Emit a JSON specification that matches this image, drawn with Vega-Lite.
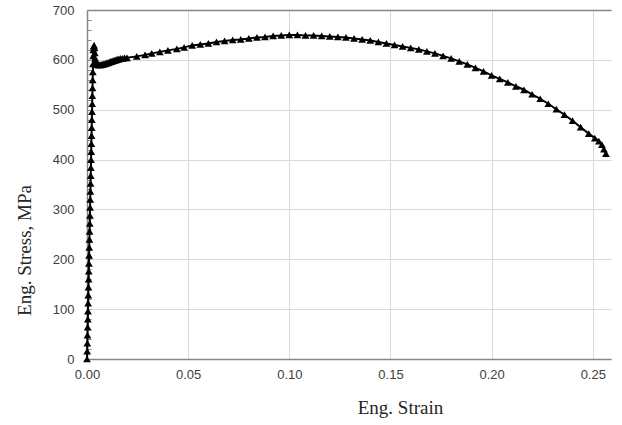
{
  "$schema": "https://vega.github.io/schema/vega-lite/v6.json",
  "width": 524,
  "height": 349,
  "autosize": {"type": "none"},
  "padding": {"left": 87, "top": 10, "right": 11, "bottom": 66},
  "background": "white",
  "config": {
    "view": {"stroke": null},
    "axis": {
      "domainColor": "#868686",
      "domainWidth": 1.5,
      "gridColor": "#d9d9d9",
      "gridWidth": 1,
      "labelFont": "Liberation Sans",
      "labelFontSize": 13,
      "labelColor": "#404040",
      "titleFont": "Liberation Serif",
      "titleFontSize": 19,
      "titleFontWeight": "normal",
      "titleColor": "#262626"
    }
  },
  "data": {
    "values": [
      {"strain": 0, "stress": 0},
      {"strain": 0.00008, "stress": 16},
      {"strain": 0.00016, "stress": 32},
      {"strain": 0.00024, "stress": 48},
      {"strain": 0.00032, "stress": 64},
      {"strain": 0.0004, "stress": 80},
      {"strain": 0.00048, "stress": 96},
      {"strain": 0.00056, "stress": 112},
      {"strain": 0.00064, "stress": 128},
      {"strain": 0.00072, "stress": 144},
      {"strain": 0.0008, "stress": 160},
      {"strain": 0.00088, "stress": 176},
      {"strain": 0.00096, "stress": 192},
      {"strain": 0.00104, "stress": 208},
      {"strain": 0.00112, "stress": 224},
      {"strain": 0.0012, "stress": 240},
      {"strain": 0.00128, "stress": 256},
      {"strain": 0.00136, "stress": 272},
      {"strain": 0.00144, "stress": 288},
      {"strain": 0.00152, "stress": 304},
      {"strain": 0.0016, "stress": 320},
      {"strain": 0.00168, "stress": 336},
      {"strain": 0.00176, "stress": 352},
      {"strain": 0.00184, "stress": 368},
      {"strain": 0.00192, "stress": 384},
      {"strain": 0.002, "stress": 400},
      {"strain": 0.00208, "stress": 416},
      {"strain": 0.00216, "stress": 432},
      {"strain": 0.00224, "stress": 448},
      {"strain": 0.00232, "stress": 464},
      {"strain": 0.0024, "stress": 480},
      {"strain": 0.00248, "stress": 496},
      {"strain": 0.00256, "stress": 512},
      {"strain": 0.00264, "stress": 528},
      {"strain": 0.00272, "stress": 544},
      {"strain": 0.0028, "stress": 560},
      {"strain": 0.00288, "stress": 576},
      {"strain": 0.00296, "stress": 592},
      {"strain": 0.00304, "stress": 608},
      {"strain": 0.0031, "stress": 620},
      {"strain": 0.0033, "stress": 627},
      {"strain": 0.0035, "stress": 629},
      {"strain": 0.0037, "stress": 624},
      {"strain": 0.0039, "stress": 614},
      {"strain": 0.0041, "stress": 603},
      {"strain": 0.0044, "stress": 595},
      {"strain": 0.0048, "stress": 592},
      {"strain": 0.0053, "stress": 590},
      {"strain": 0.0058, "stress": 590},
      {"strain": 0.0063, "stress": 590},
      {"strain": 0.0068, "stress": 590},
      {"strain": 0.0073, "stress": 591},
      {"strain": 0.0078, "stress": 591},
      {"strain": 0.0083, "stress": 592},
      {"strain": 0.0088, "stress": 592},
      {"strain": 0.0093, "stress": 593},
      {"strain": 0.0098, "stress": 594},
      {"strain": 0.0103, "stress": 594},
      {"strain": 0.0108, "stress": 595},
      {"strain": 0.0113, "stress": 596},
      {"strain": 0.0118, "stress": 597},
      {"strain": 0.0123, "stress": 597},
      {"strain": 0.0128, "stress": 598},
      {"strain": 0.0133, "stress": 599},
      {"strain": 0.0138, "stress": 599},
      {"strain": 0.0143, "stress": 600},
      {"strain": 0.0148, "stress": 601},
      {"strain": 0.0153, "stress": 601},
      {"strain": 0.0158, "stress": 602},
      {"strain": 0.0166, "stress": 603},
      {"strain": 0.0176, "stress": 603},
      {"strain": 0.0186, "stress": 604},
      {"strain": 0.0198, "stress": 604},
      {"strain": 0.0246, "stress": 607},
      {"strain": 0.0287, "stress": 610},
      {"strain": 0.032, "stress": 613},
      {"strain": 0.036, "stress": 616},
      {"strain": 0.04, "stress": 619},
      {"strain": 0.0444, "stress": 622},
      {"strain": 0.048, "stress": 625},
      {"strain": 0.052, "stress": 629},
      {"strain": 0.056, "stress": 631},
      {"strain": 0.06, "stress": 633},
      {"strain": 0.064, "stress": 636},
      {"strain": 0.068, "stress": 638},
      {"strain": 0.072, "stress": 640},
      {"strain": 0.076, "stress": 641},
      {"strain": 0.08, "stress": 643},
      {"strain": 0.084, "stress": 645},
      {"strain": 0.088, "stress": 646},
      {"strain": 0.092, "stress": 648},
      {"strain": 0.096, "stress": 649},
      {"strain": 0.1, "stress": 650},
      {"strain": 0.104, "stress": 650},
      {"strain": 0.108, "stress": 649},
      {"strain": 0.112, "stress": 649},
      {"strain": 0.116, "stress": 648},
      {"strain": 0.12, "stress": 647},
      {"strain": 0.124, "stress": 646},
      {"strain": 0.128, "stress": 645},
      {"strain": 0.132, "stress": 643},
      {"strain": 0.136, "stress": 641},
      {"strain": 0.14, "stress": 639},
      {"strain": 0.144, "stress": 636},
      {"strain": 0.148, "stress": 633},
      {"strain": 0.152, "stress": 630},
      {"strain": 0.156, "stress": 627},
      {"strain": 0.16, "stress": 624},
      {"strain": 0.164, "stress": 621},
      {"strain": 0.168, "stress": 617},
      {"strain": 0.172, "stress": 613},
      {"strain": 0.176, "stress": 608},
      {"strain": 0.18, "stress": 603},
      {"strain": 0.184, "stress": 597},
      {"strain": 0.188, "stress": 591},
      {"strain": 0.192, "stress": 584},
      {"strain": 0.196, "stress": 577},
      {"strain": 0.2, "stress": 569},
      {"strain": 0.204, "stress": 562},
      {"strain": 0.208, "stress": 555},
      {"strain": 0.212, "stress": 547},
      {"strain": 0.216, "stress": 540},
      {"strain": 0.22, "stress": 531},
      {"strain": 0.224, "stress": 522},
      {"strain": 0.228, "stress": 512},
      {"strain": 0.232, "stress": 501},
      {"strain": 0.236, "stress": 490},
      {"strain": 0.24, "stress": 478},
      {"strain": 0.244, "stress": 465},
      {"strain": 0.248, "stress": 452},
      {"strain": 0.251, "stress": 443},
      {"strain": 0.253, "stress": 437},
      {"strain": 0.2545, "stress": 430},
      {"strain": 0.2555, "stress": 421},
      {"strain": 0.2565, "stress": 412}
    ]
  },
  "layer": [
    {
      "mark": {"type": "line", "color": "black", "strokeWidth": 2, "interpolate": "linear"},
      "encoding": {
        "x": {
          "field": "strain", "type": "quantitative",
          "scale": {"domain": [0, 0.259], "nice": false, "zero": false},
          "axis": {
            "orient": "bottom",
            "values": [0, 0.05, 0.1, 0.15, 0.2, 0.25],
            "format": ".2f",
            "grid": true,
            "ticks": false,
            "tickSize": 0,
            "labelPadding": 9,
            "labelFlush": false,
            "title": "Eng. Strain",
            "titleX": 313,
            "titleY": 54,
            "titleAnchor": null,
            "titleAlign": "center",
            "titleBaseline": "alphabetic"
          }
        },
        "y": {
          "field": "stress", "type": "quantitative",
          "scale": {"domain": [0, 700], "nice": false},
          "axis": {
            "orient": "left",
            "values": [0, 100, 200, 300, 400, 500, 600, 700],
            "grid": true,
            "ticks": false,
            "tickSize": 0,
            "labelPadding": 13,
            "labelFlush": false,
            "title": "Eng. Stress, MPa",
            "titleAngle": -90,
            "titleX": -63,
            "titleY": 240,
            "titleAlign": "center",
            "titleBaseline": "middle"
          }
        }
      }
    },
    {
      "mark": {"type": "point", "shape": "triangle-up", "filled": true, "color": "black", "size": 60, "opacity": 1},
      "encoding": {
        "x": {
          "field": "strain", "type": "quantitative",
          "scale": {"domain": [0, 0.259], "nice": false, "zero": false},
          "axis": {"orient": "top", "labels": false, "ticks": false, "grid": false, "title": null, "domain": true}
        },
        "y": {
          "field": "stress", "type": "quantitative",
          "scale": {"domain": [0, 700], "nice": false},
          "axis": {
            "orient": "left",
            "values": [20, 40, 60, 80, 120, 140, 160, 180, 220, 240, 260, 280, 320, 340, 360, 380, 420, 440, 460, 480, 520, 540, 560, 580, 620, 640, 660, 680, 100, 200, 300, 400, 500, 600],
            "labels": false, "grid": false, "domain": false, "title": null,
            "ticks": true, "tickSize": -4, "tickColor": "#868686", "tickWidth": 1
          }
        }
      }
    }
  ],
  "resolve": {"axis": {"x": "independent", "y": "independent"}}
}
